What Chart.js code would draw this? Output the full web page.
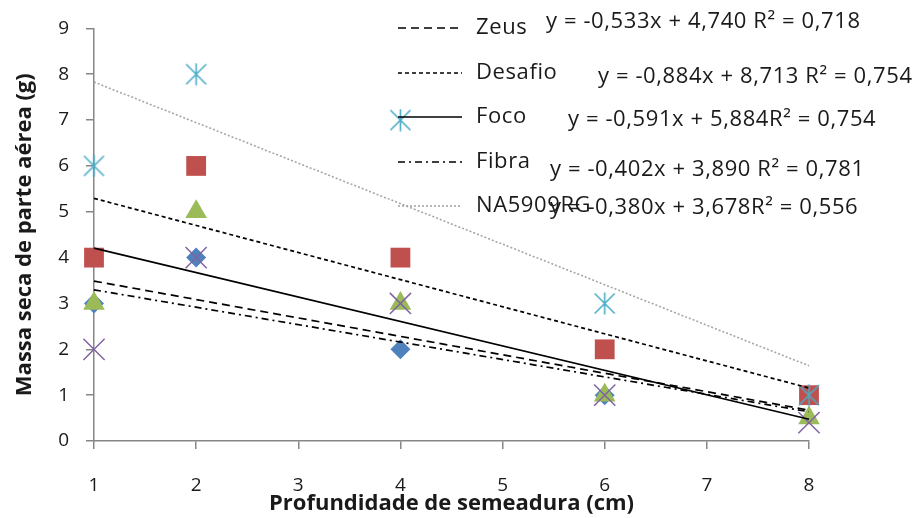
<!DOCTYPE html>
<html>
<head>
<meta charset="utf-8">
<script src="https://cdn.jsdelivr.net/npm/chart.js@4/dist/chart.umd.min.js"></script>
<style>
  html, body { margin: 0; padding: 0; background: #ffffff; }
  #wrap { width: 919px; height: 518px; position: relative; }
</style>
</head>
<body>
<div id="wrap"><canvas id="chart" width="919" height="518"></canvas></div>
<script>
// Sowing depth (cm) and shoot dry mass (g) per cultivar
const depths = [1, 2, 4, 6, 8];
const zeus = [3, 4, 2, 1, 1];
const desafio = [4, 6, 4, 2, 1];
const foco = [3, 5, 3, 1, 0.5];
const fibra = [2, 4, 3, 1, 0.4];
const na5909rg = [6, 8, 7, 3, 1];

const seriesNames = ['Zeus', 'Desafio', 'Foco', 'Fibra', 'NA5909RG'];

// Linear fit coefficients for each cultivar (same order as seriesNames)
const trendSlopes = [-0.402, -0.591, -0.533, -0.380, -0.884];
const trendIntercepts = [3.890, 5.884, 4.740, 3.678, 8.713];

// Regression equation labels, in the order they are printed
const equationLabels = [
  'y = -0,533x + 4,740 R² = 0,718',
  'y = -0,884x + 8,713 R² = 0,754',
  'y = -0,591x + 5,884R² = 0,754',
  'y = -0,402x + 3,890 R² = 0,781',
  'y = -0,380x + 3,678R² = 0,556'
];

const xTickValues = [1, 2, 3, 4, 5, 6, 7, 8];
const yTickValues = [0, 1, 2, 3, 4, 5, 6, 7, 8, 9];

const FONT = '"Open Sans", Lato, sans-serif';
const AXIS_GREY = '#868686';
const TEXT = '#1a1a1a';

// Asterisk marker: an X with a vertical stroke
function asteriskMarker(color, size) {
  const c = document.createElement('canvas');
  c.width = size; c.height = size;
  const g = c.getContext('2d');
  g.strokeStyle = color;
  g.lineWidth = 1.6;
  const m = 1.5, s = size - 1.5;
  g.beginPath();
  g.moveTo(m, m); g.lineTo(s, s);
  g.moveTo(s, m); g.lineTo(m, s);
  g.moveTo(size / 2, 0.5); g.lineTo(size / 2, size - 0.5);
  g.stroke();
  return c;
}

const markerStyles = [
  { color: '#4F81BD', style: 'rectRot', radius: 10 },
  { color: '#C0504D', style: 'rect', radius: 14 },
  { color: '#9BBB59', style: 'triangle', radius: 12.5 },
  { color: '#8064A2', style: 'crossRot', radius: 15 },
  { color: '#4BACC6', style: asteriskMarker('#4BACC6', 23), radius: 11.5 }
];

const trendStyles = [
  { color: '#000000', dash: [8, 5], width: 1.7 },
  { color: '#000000', dash: [4, 3], width: 1.7 },
  { color: '#000000', dash: [], width: 1.6 },
  { color: '#000000', dash: [7, 4, 2, 4], width: 1.7 },
  { color: '#A6A6A6', dash: [2, 2], width: 1.6 }
];

const seriesValues = [zeus, desafio, foco, fibra, na5909rg];

const pointSets = seriesValues.map((vals, i) => ({
  label: seriesNames[i],
  data: depths.map((d, j) => ({ x: d, y: vals[j] })),
  showLine: false,
  clip: false,
  pointStyle: markerStyles[i].style,
  pointRadius: markerStyles[i].radius,
  pointHoverRadius: markerStyles[i].radius,
  backgroundColor: markerStyles[i].color,
  borderColor: markerStyles[i].color,
  pointBorderWidth: i === 3 ? 1.5 : 0,
  order: 20 - i
}));

const xFirst = depths[0], xLast = depths[depths.length - 1];
const trendSets = seriesNames.map((name, i) => ({
  label: name + ' (linear)',
  data: [
    { x: xFirst, y: trendSlopes[i] * xFirst + trendIntercepts[i] },
    { x: xLast, y: trendSlopes[i] * xLast + trendIntercepts[i] }
  ],
  showLine: true,
  clip: false,
  pointRadius: 0,
  borderColor: trendStyles[i].color,
  borderWidth: trendStyles[i].width,
  borderDash: trendStyles[i].dash,
  fill: false,
  order: 5 - i
}));

// Legend of trend lines plus equation labels
const legendRows = [28, 73, 117, 162, 206];
const equationPos = [
  { x: 546, y: 22 }, { x: 598, y: 77 }, { x: 568, y: 120 },
  { x: 550, y: 170 }, { x: 550, y: 208 }
];
const trendLegend = {
  id: 'trendLegend',
  afterDatasetsDraw(chart) {
    const ctx = chart.ctx;
    ctx.save();
    ctx.font = '22px ' + FONT;
    ctx.textBaseline = 'middle';
    ctx.textAlign = 'left';
    if ('letterSpacing' in ctx) ctx.letterSpacing = '0.6px';
    seriesNames.forEach((name, i) => {
      const y = legendRows[i];
      ctx.strokeStyle = trendStyles[i].color;
      ctx.lineWidth = trendStyles[i].width;
      ctx.setLineDash(trendStyles[i].dash);
      ctx.beginPath();
      ctx.moveTo(398, y);
      ctx.lineTo(462, y);
      ctx.stroke();
      ctx.setLineDash([]);
      ctx.fillStyle = TEXT;
      ctx.fillText(name, 476, y);
    });
    equationLabels.forEach((t, i) => {
      ctx.fillStyle = TEXT;
      ctx.fillText(t, equationPos[i].x, equationPos[i].y);
    });
    ctx.restore();
  }
};

new Chart(document.getElementById('chart'), {
  type: 'scatter',
  data: { datasets: [...pointSets, ...trendSets] },
  options: {
    responsive: false,
    animation: false,
    devicePixelRatio: 1,
    layout: { padding: { top: 20, right: 110, left: 0, bottom: 0 } },
    plugins: {
      legend: { display: false },
      tooltip: { enabled: false }
    },
    scales: {
      x: {
        type: 'linear',
        min: 1, max: 8,
        afterBuildTicks(scale) { scale.ticks = xTickValues.map(v => ({ value: v })); },
        afterFit(scale) { scale.height = 77; },
        grid: { drawOnChartArea: false, drawTicks: true, tickLength: 8, color: AXIS_GREY, lineWidth: 1.5 },
        border: { color: AXIS_GREY, width: 1.5 },
        ticks: { color: TEXT, font: { family: FONT, size: 19 }, padding: 25 },
        title: {
          display: true,
          text: 'Profundidade de semeadura (cm)',
          color: TEXT,
          font: { family: FONT, size: 22, weight: 'bold' },
          padding: { top: 0, bottom: 1 }
        }
      },
      y: {
        type: 'linear',
        min: 0, max: 9,
        afterBuildTicks(scale) { scale.ticks = yTickValues.map(v => ({ value: v })); },
        afterFit(scale) { scale.width = 94; },
        grid: { drawOnChartArea: false, drawTicks: true, tickLength: 8, color: AXIS_GREY, lineWidth: 1.5 },
        border: { color: AXIS_GREY, width: 1.5 },
        ticks: { color: TEXT, font: { family: FONT, size: 19 }, padding: 17 },
        title: {
          display: true,
          text: 'Massa seca de parte aérea (g)',
          color: TEXT,
          font: { family: FONT, size: 22, weight: 'bold' },
          padding: { top: 12, bottom: 0 }
        }
      }
    }
  },
  plugins: [trendLegend]
});
</script>
</body>
</html>
